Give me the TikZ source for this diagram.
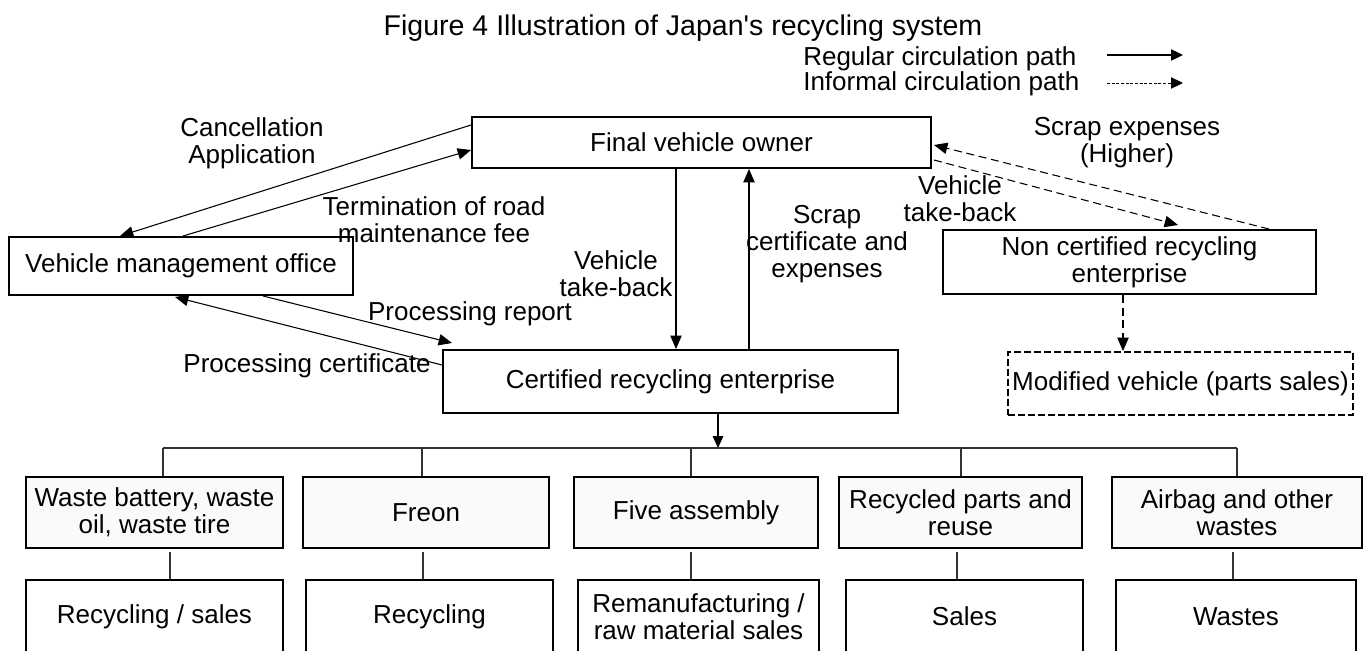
\documentclass[tikz,border=0pt]{standalone}
\usepackage{fontspec}
\setmainfont{Liberation Sans}
\usetikzlibrary{arrows.meta}
\begin{document}
\begin{tikzpicture}[x=0.75pt,y=-0.75pt,
  every node/.style={font=\fontsize{19.5pt}{20.25pt}\selectfont, inner sep=0pt},
  box/.style={draw, line width=1.5pt, align=center},
  rowbox/.style={box, fill=black!2, minimum height=53.25pt},
  lowbox/.style={box, fill=white, minimum height=54.75pt},
  conn/.style={line width=0.8pt},
  arr/.style={conn, -{Triangle[length=10pt,width=8.5pt]}},
  darr/.style={arr, dash pattern=on 6pt off 3.5pt},
  lbl/.style={align=center},
]
\useasboundingbox (0,0) rectangle (1367,650);
\clip (0,0) rectangle (1367,650);

% title and legend
\node[anchor=base, font=\fontsize{21.4pt}{22pt}\selectfont] (title) at (683,35) {Figure 4 Illustration of Japan\textquotesingle s recycling system};
\node[anchor=base west] (leg1) at (803,65) {Regular circulation path};
\node[anchor=base west] (leg2) at (803,90) {Informal circulation path};
\coordinate (l1a) at (1107,55); \coordinate (l1b) at (1183,55);
\coordinate (l2a) at (1107,83); \coordinate (l2b) at (1183,83);
\draw[conn, -{Triangle[length=9pt,width=8.5pt]}] (l1a) -- (l1b);
\draw[conn, line width=0.7pt, dash pattern=on 2.2pt off 1.3pt, -{Triangle[length=9pt,width=8.5pt]}] (l2a) -- (l2b);

% main boxes
\node[box, minimum width=344.25pt, minimum height=38.25pt] (owner) at (701.5,142.5) {Final vehicle owner};
\node[box, minimum width=258pt, minimum height=43.5pt] (vmo) at (181,266) {Vehicle management office};
\node[box, minimum width=341.25pt, minimum height=47.25pt] (cre) at (670.5,381.5) {Certified recycling enterprise};
\node[box, minimum width=279.75pt, minimum height=48pt] (ncre) at (1129.5,262) {Non certified recycling\\enterprise};
\node[box, dash pattern=on 5pt off 2.5pt, minimum width=258.75pt, minimum height=47.25pt] (mod) at (1180.5,383.5) {Modified vehicle (parts sales)};

% first row
\node[rowbox, minimum width=192.75pt] (b1) at (154.5,512.5) {Waste battery, waste\\oil, waste tire};
\node[rowbox, minimum width=184.5pt] (b2) at (426,512.5) {Freon};
\node[rowbox, minimum width=183pt] (b3) at (696,512.5) {Five assembly};
\node[rowbox, minimum width=182.25pt] (b4) at (960.5,512.5) {Recycled parts and\\reuse};
\node[rowbox, minimum width=187.5pt] (b5) at (1237,512.5) {Airbag and other\\wastes};

% second row
\node[lowbox, minimum width=192.75pt] (c1) at (154.5,616.5) {Recycling / sales};
\node[lowbox, minimum width=185.25pt] (c2) at (429.5,616.5) {Recycling};
\node[lowbox, minimum width=180.75pt] (c3) at (698.5,616.5) {Remanufacturing /\\raw material sales};
\node[lowbox, minimum width=177.75pt] (c4) at (964.5,616.5) {Sales};
\node[lowbox, minimum width=180pt] (c5) at (1236,616.5) {Wastes};

% labels
\node[lbl] (cancel) at (252,143) {Cancellation\\Application};
\node[lbl] (term) at (434,220) {Termination of road\\maintenance fee};
\node[anchor=base] (prep) at (470,320) {Processing report};
\node[anchor=base] (pcert) at (307,372) {Processing certificate};
\node[lbl] (vtb1) at (616,273.5) {Vehicle\\take-back};
\node[lbl] (scert) at (827,244) {Scrap\\certificate and\\expenses};
\node[lbl] (sexp) at (1127,143) {Scrap expenses\\(Higher)};
\node[lbl] (vtb2) at (960,199) {Vehicle\\take-back};

% regular connectors
\draw[arr] ([shift={(0,-17.5)}]owner.west) -- ([shift={(-61,0)}]vmo.north);
\draw[arr] ([shift={(2,0)}]vmo.north) -- ([shift={(0,7.5)}]owner.west);
\draw[arr] ([shift={(82,0)}]vmo.south) -- ([shift={(10,-6)}]cre.north west);
\draw[arr] ([shift={(0,-16.5)}]cre.west) -- ([shift={(-6,1)}]vmo.south);
\coordinate (vt) at ([shift={(-25.5,0)}]owner.south);
\draw[arr] (vt) -- (vt |- cre.north);
\coordinate (sc) at ([shift={(47.5,0)}]owner.south);
\draw[arr] (sc |- cre.north) -- (sc);

% informal connectors
\draw[darr] ([shift={(2,17.5)}]owner.east) -- ([shift={(48.5,-4)}]ncre.north);
\draw[darr] ([shift={(-48,0)}]ncre.north east) -- ([shift={(2,2.5)}]owner.east);
\coordinate (nd) at ([shift={(-6.5,0)}]ncre.south);
\draw[darr] (nd) -- (nd |- mod.north);

% distribution bus
\coordinate (j1) at (163,448);
\coordinate (j2) at (422,448);
\coordinate (j3) at (691,448);
\coordinate (j4) at (961,448);
\coordinate (j5) at (1237,448);
\coordinate (cb) at (718,448);
\draw[conn, -{Triangle[length=9pt,width=8pt]}] (cb |- cre.south) -- (cb);
\draw[conn, black!80] (j1) -- (j5);
\foreach \i in {1,...,5} {\draw[conn, black!80] (j\i) -- (j\i |- b\i.north);}

% row connectors
\coordinate (k1) at (170,0);
\coordinate (k2) at (423,0);
\coordinate (k3) at (691,0);
\coordinate (k4) at (957,0);
\coordinate (k5) at (1233,0);
\foreach \i in {1,...,5} {\draw[conn, black!80, shorten <=2.5pt] (k\i |- b\i.south) -- (k\i |- c\i.north);}
\end{tikzpicture}
\end{document}
